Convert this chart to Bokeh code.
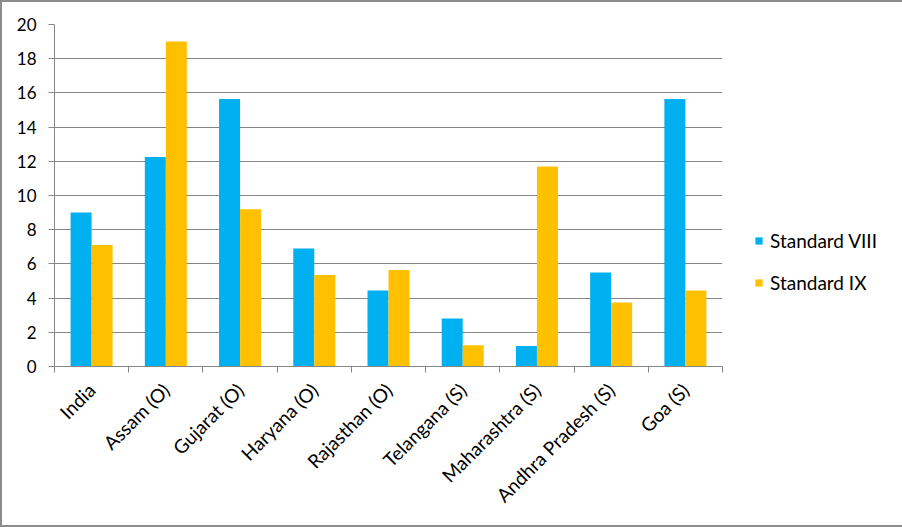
import math
from bokeh.plotting import figure
from bokeh.models import (ColumnDataSource, Range1d, FixedTicker, Legend, LegendItem)
from bokeh.embed import file_html
from bokeh.resources import INLINE

states = ["India", "Assam (O)", "Gujarat (O)", "Haryana (O)", "Rajasthan (O)",
          "Telangana (S)", "Maharashtra (S)", "Andhra Pradesh (S)", "Goa (S)"]
std_viii = [9.0, 12.25, 15.65, 6.9, 4.45, 2.8, 1.2, 5.5, 15.65]
std_ix = [7.1, 19.0, 9.2, 5.35, 5.65, 1.25, 11.7, 3.75, 4.45]
y_ticks = [0, 2, 4, 6, 8, 10, 12, 14, 16, 18, 20]

BLUE = "#00B0F0"
YELLOW = "#FFC000"
GRID = "#868686"
FONT = "Lato"
BAR_W = 0.283

n = len(states)
centers = [i + 0.5 for i in range(n)]
src = ColumnDataSource(dict(
    x8=[c - BAR_W / 2 for c in centers],
    x9=[c + BAR_W / 2 for c in centers],
    v8=std_viii, v9=std_ix,
))

p = figure(width=898, height=523, output_backend="svg", toolbar_location=None,
           x_range=Range1d(0, n), y_range=Range1d(0, 20),
           frame_width=668, frame_height=342,
           min_border_left=52, min_border_right=178,
           min_border_top=22, min_border_bottom=159)
p.outline_line_color = None
p.background_fill_color = "white"
p.border_fill_color = "white"
p.styles = {"border": "2px solid #8c8c8c"}

r8 = p.vbar(x="x8", top="v8", width=BAR_W, source=src, fill_color=BLUE, line_color=None)
r9 = p.vbar(x="x9", top="v9", width=BAR_W, source=src, fill_color=YELLOW, line_color=None)

# y axis
p.yaxis.ticker = FixedTicker(ticks=y_ticks)
p.yaxis.axis_line_color = GRID
p.yaxis.major_tick_line_color = GRID
p.yaxis.major_tick_in = 0
p.yaxis.major_tick_out = 6
p.yaxis.minor_tick_line_color = None
p.yaxis.major_label_standoff = 12
p.yaxis.major_label_text_font = FONT
p.yaxis.major_label_text_font_size = "17px"
p.yaxis.major_label_text_color = "#000000"
p.ygrid.grid_line_color = GRID
p.ygrid.grid_line_width = 1
p.xgrid.grid_line_color = None

# x axis: labels at centers, tick marks at category boundaries
p.xaxis.ticker = FixedTicker(ticks=centers, minor_ticks=list(range(n + 1)))
p.xaxis.major_label_overrides = {c: s for c, s in zip(centers, states)}
p.xaxis.major_label_orientation = math.pi / 4
p.xaxis.axis_line_color = GRID
p.xaxis.major_tick_line_color = None
p.xaxis.minor_tick_line_color = GRID
p.xaxis.minor_tick_in = 0
p.xaxis.minor_tick_out = 6
p.xaxis.major_tick_out = 0
p.xaxis.major_tick_in = 0
p.xaxis.major_label_standoff = 14
p.xaxis.major_label_text_font = FONT
p.xaxis.major_label_text_font_size = "19px"
p.xaxis.major_label_text_color = "#000000"

legend = Legend(items=[LegendItem(label="Standard VIII", renderers=[r8]),
                       LegendItem(label="Standard IX", renderers=[r9])],
                location=(32, 72))
legend.border_line_color = None
legend.background_fill_alpha = 0
legend.padding = 0
legend.margin = 0
legend.glyph_width = 9
legend.glyph_height = 9
legend.label_standoff = 7
legend.label_height = 20
legend.spacing = 19
legend.label_text_font = FONT
legend.label_text_font_size = "19px"
legend.label_text_color = "#000000"
p.add_layout(legend, "right")

open("out.html", "w").write(file_html(p, INLINE))
